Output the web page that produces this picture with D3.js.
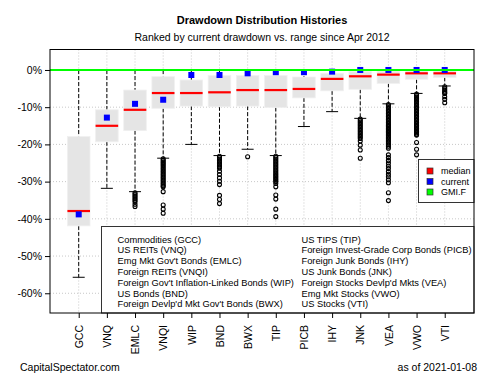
<!DOCTYPE html>
<meta charset="utf-8">
<style>
  body { margin: 0; background: #fff; }
  text { font-family: "Liberation Sans", Arial, sans-serif; fill: #000; }
</style>
<script src="https://d3js.org/d3.v7.min.js"></script>
<div id="chart"></div>
<script>
// data (drawdown, %)
var cats = ["GCC", "VNQ", "EMLC", "VNQI", "WIP", "BND", "BWX", "TIP", "PICB", "IHY", "JNK", "VEA", "VWO", "VTI"];
var boxTop = [-17.9, -10.7, -5.4, -1.8, -2.7, -1.5, -1.5, -1.5, -1.9, -0.9, -0.45, -0.3, -0.2, -0.2];
var boxBottom = [-41.9, -19.3, -16.3, -10.3, -9.7, -9.9, -9.7, -10.1, -7.5, -5.6, -5.2, -3.6, -2.5, -2.0];
var medians = [-37.9, -15.0, -10.7, -6.2, -6.2, -6.0, -5.4, -5.4, -5.1, -2.4, -1.7, -1.25, -0.9, -0.9];
var current = [-38.8, -12.8, -9.1, -8.0, -1.35, -1.35, -0.9, -0.6, -0.6, -0.45, 0, 0, 0, 0];
var whiskerHigh = [0, 0, 0, 0, 0, 0, 0, 0, 0, 0, 0, 0, 0, 0];
var whiskerLow = [-55.7, -31.8, -32.7, -23.7, -20.0, -23.0, -21.3, -23.0, -15.2, -11.2, -13.0, -9.1, -6.3, -4.3];
var outliers = [
  [],
  [],
  [-33.0, -33.4, -33.8, -34.2, -34.6, -35.0, -35.4, -36.1, -36.7],
  [-23.9, -24.3, -24.7, -25.1, -25.5, -25.9, -26.3, -26.7, -27.1, -27.5, -27.9, -28.3, -28.7, -29.1, -29.5, -29.9, -30.3, -30.7, -31.1, -31.4, -32.7, -36.3, -37.4, -38.5],
  [],
  [-23.2, -23.6, -24.0, -24.4, -24.8, -25.2, -25.6, -26.0, -26.4, -27.2, -28.1, -29.0, -29.9, -30.8, -33.7, -34.8, -35.9],
  [-23.3],
  [-23.2, -23.6, -24.0, -24.4, -24.8, -25.2, -25.6, -26.0, -26.4, -26.8, -27.2, -27.6, -28.0, -28.4, -28.8, -29.2, -29.6, -30.0, -30.5, -31.4, -33.6, -34.7, -37.4, -39.4],
  [],
  [],
  [-13.2, -13.6, -14.0, -14.4, -14.8, -15.2, -15.6, -16.0, -16.4, -16.8, -17.2, -17.6, -18.0, -18.4, -19.1, -20.2, -21.5, -23.7],
  [-9.3, -9.7, -10.1, -10.5, -10.9, -11.3, -11.7, -12.1, -12.5, -12.9, -13.3, -13.7, -14.1, -14.5, -14.9, -15.3, -15.7, -16.1, -16.5, -16.9, -17.3, -17.7, -18.1, -18.5, -18.9, -19.3, -19.7, -20.1, -20.5, -21.0, -22.8, -23.5, -24.3, -25.0, -25.8, -26.5, -27.3, -28.0, -28.7, -29.5, -30.3, -33.0, -35.1],
  [-6.5, -6.9, -7.3, -7.7, -8.1, -8.5, -8.9, -9.3, -9.7, -10.1, -10.5, -10.9, -11.3, -11.7, -12.1, -12.5, -12.9, -13.3, -13.7, -14.1, -14.5, -14.9, -15.3, -15.7, -16.1, -16.5, -16.9, -17.3, -17.5, -19.5, -21.3, -22.8],
  [-4.5, -4.9, -5.3, -5.7, -6.1, -6.3, -7.2, -7.9, -8.8]
];
var yTicks = [0, -10, -20, -30, -40, -50, -60];
var legendItems = ["median", "current", "GMI.F"];
var legendColors = ["#ff0000", "#0000ff", "#00ff00"];
var namesLeft = ["Commodities (GCC)", "US REITs (VNQ)", "Emg Mkt Gov't Bonds (EMLC)", "Foreign REITs (VNQI)",
  "Foreign Gov't Inflation-Linked Bonds (WIP)", "US Bonds (BND)", "Foreign Devlp'd Mkt Gov't Bonds (BWX)"];
var namesRight = ["US TIPS (TIP)", "Foreign Invest-Grade Corp Bonds (PICB)", "Foreign Junk Bonds (IHY)",
  "US Junk Bonds (JNK)", "Foreign Stocks Devlp'd Mkts (VEA)", "Emg Mkt Stocks (VWO)", "US Stocks (VTI)"];

var width = 500, height = 375;
var pL = 50, pR = 474, pT = 49.5, pB = 313;

var svg = d3.select("#chart").append("svg")
  .attr("width", width).attr("height", height);

var x = d3.scaleLinear().domain([-0.02, 15.04]).range([pL, pR]);
var y = d3.scaleLinear().domain([5.5, -65.3]).range([pT, pB]);

var rows = cats.map(function(c, i) {
  return { name: c, i: i + 1, q1: boxTop[i], q3: boxBottom[i], med: medians[i], cur: current[i],
    hi: whiskerHigh[i], lo: whiskerLow[i], out: outliers[i] };
});

// titles
svg.append("text").attr("x", 262).attr("y", 24).attr("text-anchor", "middle")
  .style("font-size", "11px").style("font-weight", "bold").text("Drawdown Distribution Histories");
svg.append("text").attr("x", 262).attr("y", 41).attr("text-anchor", "middle")
  .style("font-size", "10.5px").text("Ranked by current drawdown vs. range since Apr 2012");

// grid
var grid = svg.append("g").attr("stroke", "#c8c8c8").attr("stroke-dasharray", "1,2");
grid.selectAll(".gx").data(rows).enter().append("line")
  .attr("x1", function(d) { return x(d.i); }).attr("x2", function(d) { return x(d.i); })
  .attr("y1", pT).attr("y2", pB);
grid.selectAll(".gy").data(yTicks).enter().append("line")
  .attr("x1", pL).attr("x2", pR)
  .attr("y1", function(d) { return y(d); }).attr("y2", function(d) { return y(d); });

var bw = 22.6, cw = 12;
var g = svg.selectAll(".cat").data(rows).enter().append("g");

// whiskers
g.append("line").attr("x1", function(d) { return x(d.i); }).attr("x2", function(d) { return x(d.i); })
  .attr("y1", function(d) { return y(d.hi); }).attr("y2", function(d) { return y(d.q1); })
  .attr("stroke", "#000").attr("stroke-dasharray", "4,2");
g.append("line").attr("x1", function(d) { return x(d.i); }).attr("x2", function(d) { return x(d.i); })
  .attr("y1", function(d) { return y(d.q3); }).attr("y2", function(d) { return y(d.lo); })
  .attr("stroke", "#000").attr("stroke-dasharray", "4,2");
g.append("line").attr("x1", function(d) { return x(d.i) - cw / 2; }).attr("x2", function(d) { return x(d.i) + cw / 2; })
  .attr("y1", function(d) { return y(d.lo); }).attr("y2", function(d) { return y(d.lo); })
  .attr("stroke", "#000");
g.append("line").attr("x1", function(d) { return x(d.i) - cw / 2; }).attr("x2", function(d) { return x(d.i) + cw / 2; })
  .attr("y1", function(d) { return y(d.hi); }).attr("y2", function(d) { return y(d.hi); })
  .attr("stroke", "#000");

// boxes
g.append("rect").attr("x", function(d) { return x(d.i) - bw / 2; }).attr("width", bw)
  .attr("y", function(d) { return y(d.q1); })
  .attr("height", function(d) { return y(d.q3) - y(d.q1); })
  .attr("fill", "#e5e5e5").attr("stroke", "#f0f0f0").attr("stroke-width", 0.8);
g.append("line").attr("x1", function(d) { return x(d.i) - bw / 2; }).attr("x2", function(d) { return x(d.i) + bw / 2; })
  .attr("y1", function(d) { return y(d.med); }).attr("y2", function(d) { return y(d.med); })
  .attr("stroke", "#ff0000").attr("stroke-width", 2.2);

// outliers
g.each(function(d) {
  d3.select(this).selectAll("circle").data(d.out).enter().append("circle")
    .attr("cx", x(d.i)).attr("cy", function(v) { return y(v); })
    .attr("r", 2).attr("fill", "none").attr("stroke", "#000").attr("stroke-width", 1.1);
});

// GMI.F line at zero
svg.append("line").attr("x1", pL).attr("x2", pR).attr("y1", y(0)).attr("y2", y(0))
  .attr("stroke", "#00ff00").attr("stroke-width", 2);

// current markers
g.append("rect").attr("x", function(d) { return x(d.i) - 3; }).attr("y", function(d) { return y(d.cur) - 3; })
  .attr("width", 6).attr("height", 6).attr("fill", "#0000ff");

// legend 1
var lg = svg.append("g");
lg.append("rect").attr("x", 418.5).attr("y", 159.5).attr("width", pR - 418.5).attr("height", 43)
  .attr("fill", "#fff").attr("stroke", "#333");
legendItems.forEach(function(t, i) {
  lg.append("rect").attr("x", 427).attr("y", 168 + i * 10.5).attr("width", 6).attr("height", 6)
    .attr("fill", legendColors[i]).attr("stroke", "#333").attr("stroke-width", 0.7);
  lg.append("text").attr("x", 441).attr("y", 171 + i * 10.5).attr("dy", "0.35em")
    .style("font-size", "9px").text(t);
});

// legend 2 (names)
var ng = svg.append("g");
ng.append("rect").attr("x", 101.5).attr("y", 226.5).attr("width", pR - 101.5).attr("height", pB - 226.5)
  .attr("fill", "#fff").attr("stroke", "#333");
namesLeft.forEach(function(t, i) {
  ng.append("text").attr("x", 117.5).attr("y", 239.3 + i * 10.8).attr("dy", "0.35em")
    .style("font-size", "9.3px").text(t);
});
namesRight.forEach(function(t, i) {
  ng.append("text").attr("x", 301.5).attr("y", 239.3 + i * 10.8).attr("dy", "0.35em")
    .style("font-size", "9.3px").text(t);
});

// axes
var ya = svg.append("g").attr("transform", "translate(" + pL + ",0)")
  .call(d3.axisLeft(y).tickValues(yTicks).tickSize(5).tickPadding(3).tickFormat(function(d) { return d + "%"; }));
ya.select(".domain").remove();
ya.selectAll("text").style("font-size", "10.5px").attr("fill", "#000");

var xa = svg.append("g").attr("transform", "translate(0," + pB + ")")
  .call(d3.axisBottom(x).tickValues(d3.range(1, cats.length + 1)).tickSize(5)
    .tickFormat(function(d) { return cats[d - 1]; }));
xa.select(".domain").remove();
xa.selectAll("text").style("font-size", "10.5px").attr("fill", "#000")
  .attr("text-anchor", "end").attr("transform", "rotate(-90)")
  .attr("x", -12).attr("y", 0).attr("dy", "0.35em");

// border
svg.append("rect").attr("x", pL).attr("y", pT).attr("width", pR - pL).attr("height", pB - pT)
  .attr("fill", "none").attr("stroke", "#000");

// footer
svg.append("text").attr("x", 20).attr("y", 371).style("font-size", "10.5px").text("CapitalSpectator.com");
svg.append("text").attr("x", 477).attr("y", 371).attr("text-anchor", "end")
  .style("font-size", "10.5px").text("as of  2021-01-08");
</script>
